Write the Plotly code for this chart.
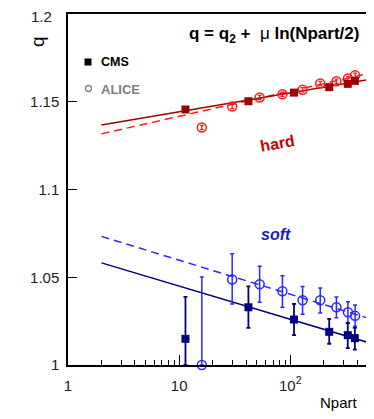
import plotly.graph_objects as go

# ---------------- data ----------------
# CMS (PbPb) Npart values
cms_npart = [11.4, 42, 108, 224, 329, 381]
cms_hard_q = [1.1456, 1.1503, 1.1552, 1.1583, 1.1602, 1.1619]
cms_soft_q = [1.0149, 1.0329, 1.0259, 1.0189, 1.0170, 1.0153]
cms_soft_err_plus = [0.0239, 0.0119, 0.0089, 0.0074, 0.0070, 0.0059]
cms_soft_err_minus = [0.0149, 0.0117, 0.0089, 0.0068, 0.0074, 0.0065]

# ALICE Npart values
alice_npart = [16, 30, 53, 85, 129, 186, 260, 330, 383]
alice_hard_q = [1.1353, 1.1473, 1.1524, 1.1543, 1.1568, 1.1604, 1.1617, 1.1632, 1.1651]
alice_hard_err = [0.0012, 0.0012, 0.0012, 0.0012, 0.0012, 0.0012, 0.0012, 0.0012, 0.0012]
alice_soft_q = [1.0000, 1.0487, 1.0460, 1.0420, 1.0369, 1.0369, 1.0329, 1.0301, 1.0280]
alice_soft_err_plus = [0.0502, 0.0147, 0.0102, 0.0089, 0.0079, 0.0070, 0.0059, 0.0059, 0.0062]
alice_soft_err_minus = [0.0000, 0.0139, 0.0103, 0.0091, 0.0080, 0.0072, 0.0060, 0.0065, 0.0059]

# fit lines q = q2 + mu ln(Npart/2): end points
fit_npart = [2, 490]
fit_hard_cms = [1.1367, 1.1625]
fit_hard_alice = [1.1317, 1.1659]
fit_soft_cms = [1.0582, 1.0130]
fit_soft_alice = [1.0733, 1.0269]

x_tickvals = [1, 10, 100]
x_ticktext = ["1", "10", "10<sup>2</sup>"]
x_minor = [2, 3, 4, 5, 6, 7, 8, 9, 20, 30, 40, 50, 60, 70, 80, 90, 200, 300, 400]
y_tickvals = [1.0, 1.05, 1.1, 1.15, 1.2]
y_ticktext = ["1", "1.05", "1.1", "1.15", ""]   # top label drawn separately (shifted, as in ROOT)
y_top_label = "1.2"

# ---------------- colours / layout ----------------
FONT = "Liberation Sans, Arial, Helvetica, sans-serif"
DARKRED = "#a00000"
RED = "#ff1a1a"
NAVY = "#000080"
BLUE = "#2a2aff"

# page body has an 8px margin; plot frame in page pixels: x 68..367, y 14..365
OFF = 8
PX0, PX1, PY0, PY1 = 68, 367, 14, 365
W, H = 366, 411
L = PX0 - OFF
T = PY0 - OFF
R = W - (PX1 - OFF)
B = H - (PY1 - OFF)


def pxx(px):
    return (px - PX0) / (PX1 - PX0)


def pyy(py):
    return (PY1 - py) / (PY1 - PY0)


fig = go.Figure()

fig.add_trace(go.Scatter(x=fit_npart, y=fit_hard_alice, mode="lines",
                         line=dict(color=RED, width=1.5, dash="8px,5px"), showlegend=False))
fig.add_trace(go.Scatter(x=fit_npart, y=fit_hard_cms, mode="lines",
                         line=dict(color=DARKRED, width=1.5), showlegend=False))
fig.add_trace(go.Scatter(x=fit_npart, y=fit_soft_alice, mode="lines",
                         line=dict(color=BLUE, width=1.5, dash="8px,5px"), showlegend=False))
fig.add_trace(go.Scatter(x=fit_npart, y=fit_soft_cms, mode="lines",
                         line=dict(color=NAVY, width=1.5), showlegend=False))

fig.add_trace(go.Scatter(
    x=alice_npart, y=alice_hard_q, mode="markers",
    marker=dict(symbol="circle-open", size=9, color=RED, line=dict(width=1.5, color=RED)),
    error_y=dict(type="data", array=alice_hard_err, color=RED, thickness=1.3, width=2),
    showlegend=False))
fig.add_trace(go.Scatter(
    x=cms_npart, y=cms_hard_q, mode="markers",
    marker=dict(symbol="square", size=8, color=DARKRED),
    showlegend=False))
fig.add_trace(go.Scatter(
    x=alice_npart, y=alice_soft_q, mode="markers",
    marker=dict(symbol="circle-open", size=9, color=BLUE, line=dict(width=1.5, color=BLUE)),
    error_y=dict(type="data", symmetric=False, array=alice_soft_err_plus,
                 arrayminus=alice_soft_err_minus, color=BLUE, thickness=1.5, width=2),
    cliponaxis=False, showlegend=False))
fig.add_trace(go.Scatter(
    x=cms_npart, y=cms_soft_q, mode="markers",
    marker=dict(symbol="square", size=8, color=NAVY),
    error_y=dict(type="data", symmetric=False, array=cms_soft_err_plus,
                 arrayminus=cms_soft_err_minus, color=NAVY, thickness=1.8, width=2),
    showlegend=False))

annotations = [
    dict(text="<b>q = q<sub>2</sub> + </b> μ <b>ln(Npart/2)</b>", x=pxx(361), y=pyy(35),
         xanchor="right", yanchor="middle", font=dict(size=17, color="black")),
    dict(text="<b>CMS</b>", x=pxx(99), y=pyy(62), xanchor="left", yanchor="middle",
         font=dict(size=12.5, color="black")),
    dict(text="<b>ALICE</b>", x=pxx(99), y=pyy(90), xanchor="left", yanchor="middle",
         font=dict(size=13, color="#808080")),
    dict(text="<b>hard</b>", x=pxx(277), y=pyy(143), xanchor="center", yanchor="middle",
         textangle=-10, font=dict(size=16, color="#cc0000")),
    dict(text="<b><i>soft</i></b>", x=pxx(276), y=pyy(234), xanchor="center", yanchor="middle",
         font=dict(size=16, color="#1a1acc")),
    dict(text="q", x=pxx(37), y=pyy(42), xanchor="center", yanchor="middle",
         textangle=-90, font=dict(size=19, color="black")),
    dict(text="Npart", x=pxx(339), y=pyy(402), xanchor="center", yanchor="middle",
         font=dict(size=15, color="black")),
    dict(text=y_top_label, x=pxx(54), y=pyy(17), xanchor="right", yanchor="middle",
         font=dict(size=15, color="#222222")),
]
for a in annotations:
    a.update(xref="paper", yref="paper", showarrow=False)
    a["font"]["family"] = FONT

shapes = [
    dict(type="rect", xref="paper", yref="paper",
         x0=pxx(84.5), x1=pxx(91.5), y0=pyy(65.5), y1=pyy(58.5),
         fillcolor="black", line=dict(width=0)),
    dict(type="circle", xref="paper", yref="paper",
         x0=pxx(85.5), x1=pxx(91.5), y0=pyy(91.5), y1=pyy(85.5),
         line=dict(color="#808080", width=1.3)),
]

fig.update_layout(
    width=W, height=H, autosize=False,
    margin=dict(l=L, r=R, t=T, b=B, pad=0, autoexpand=False),
    paper_bgcolor="white", plot_bgcolor="white",
    font=dict(family=FONT, size=15, color="#222222"),
    annotations=annotations, shapes=shapes,
    xaxis=dict(type="log", range=[0, 2.6902], showgrid=False, zeroline=False,
               automargin=False,
               showline=True, linecolor="black", linewidth=1.5, mirror=True,
               tickmode="array", tickvals=x_tickvals, ticktext=x_ticktext,
               ticks="inside", ticklen=10, tickwidth=1, tickcolor="black",
               ticklabelstandoff=6, ticklabeloverflow="allow",
               minor=dict(tickmode="array", tickvals=x_minor, ticks="inside",
                          ticklen=5, tickwidth=1, tickcolor="black", showgrid=False)),
    yaxis=dict(range=[1.0, 1.2], showgrid=False, zeroline=False,
               automargin=False,
               showline=True, linecolor="black", linewidth=1.5, mirror=True,
               tickmode="array", tickvals=y_tickvals, ticktext=y_ticktext,
               ticks="inside", ticklen=9, tickwidth=1, tickcolor="black",
               ticklabelstandoff=4, ticklabeloverflow="allow"),
)

fig.write_html("out.html")
